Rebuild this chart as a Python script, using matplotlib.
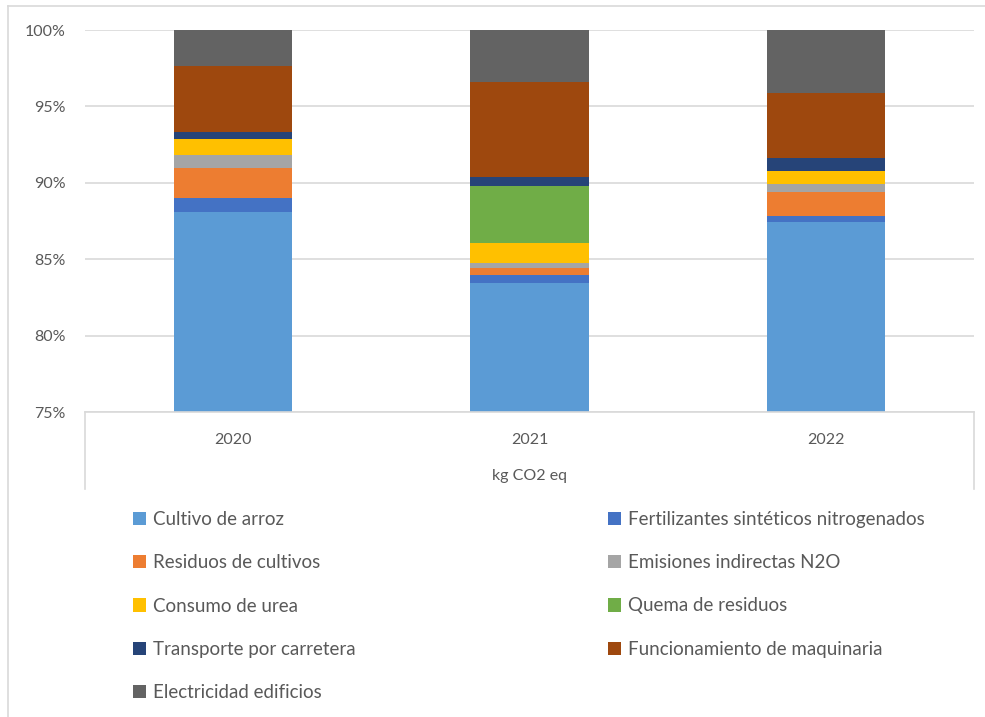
import numpy as np
import matplotlib
matplotlib.use('Agg')
import matplotlib.pyplot as plt
from matplotlib.lines import Line2D
from matplotlib.patches import Patch

plt.rcParams['font.family'] = ['Lato', 'DejaVu Sans']

# data (share of total, %)
years = ['2020', '2021', '2022']
series = ['Cultivo de arroz', 'Fertilizantes sintéticos nitrogenados',
          'Residuos de cultivos', 'Emisiones indirectas N2O',
          'Consumo de urea', 'Quema de residuos',
          'Transporte por carretera', 'Funcionamiento de maquinaria',
          'Electricidad edificios']
cultivo = [88.11, 83.42, 87.41]
fertilizantes = [0.92, 0.55, 0.44]
residuos = [1.96, 0.43, 1.53]
emisiones = [0.83, 0.37, 0.52]
urea = [1.05, 1.31, 0.87]
quema = [0.0, 3.71, 0.0]
transporte = [0.43, 0.57, 0.83]
maquinaria = [4.36, 6.22, 4.30]
electricidad = [2.34, 3.42, 4.10]
yticks = [75, 80, 85, 90, 95, 100]

values = [cultivo, fertilizantes, residuos, emisiones, urea, quema,
          transporte, maquinaria, electricidad]
colors = ['#5B9BD5', '#4472C4', '#ED7D31', '#A5A5A5', '#FFC000',
          '#70AD47', '#264478', '#9E480E', '#636363']

W, H = 985, 717
fig = plt.figure(figsize=(W / 100, H / 100), dpi=100)
ax = fig.add_axes([85 / W, 1 - 412 / H, (974 - 85) / W, (412 - 30) / H])

x = np.arange(len(years))
bottom = np.zeros(len(years))
for vals, col in zip(values, colors):
    ax.bar(x, vals, 0.4, bottom=bottom, color=col, zorder=2)
    bottom += np.array(vals)

ax.set_xlim(-0.5, len(years) - 0.5)
ax.set_ylim(75, 100)
ax.set_yticks(yticks)
ax.set_yticklabels(['%d%%' % t for t in yticks])
ax.set_xticks(x)
ax.set_xticklabels(years)
ax.grid(axis='y', color='#d9d9d9', linewidth=1.2, zorder=0)
for s in ['top', 'right', 'left']:
    ax.spines[s].set_visible(False)
ax.spines['bottom'].set_color('#d9d9d9')
ax.spines['bottom'].set_linewidth(1.2)
ax.tick_params(axis='both', length=0, labelsize=11.5, labelcolor='#595959')
ax.tick_params(axis='y', pad=14)
ax.tick_params(axis='x', pad=15)
ax.set_xlabel('kg CO2 eq', fontsize=11.5, color='#595959', labelpad=16)

# multi-level category box sides
for xa in [0, 1]:
    ax.add_line(Line2D([xa, xa], [0, -77 / 382], transform=ax.transAxes,
                       color='#d9d9d9', linewidth=1.2, clip_on=False))

# chart area border (left and top visible)
fig.add_artist(Line2D([8 / W, 8 / W], [0, 1 - 6 / H], color='#d9d9d9', linewidth=1.2))
fig.add_artist(Line2D([8 / W, 1], [1 - 6 / H, 1 - 6 / H], color='#d9d9d9', linewidth=1.2))

handles = [Patch(facecolor=c, label=s) for c, s in zip(colors, series)]
leg_kw = dict(frameon=False, fontsize=13.5, handlelength=0.7, handleheight=0.7,
              handletextpad=0.35, labelspacing=1.4, labelcolor='#595959',
              borderaxespad=0, borderpad=0)
leg1 = fig.legend(handles=handles[0::2], loc='upper left',
                  bbox_to_anchor=(133 / W, 1 - 511 / H), **leg_kw)
leg2 = fig.legend(handles=handles[1::2], loc='upper left',
                  bbox_to_anchor=(608 / W, 1 - 511 / H), **leg_kw)

fig.savefig('out.png', dpi=100, facecolor='white')
